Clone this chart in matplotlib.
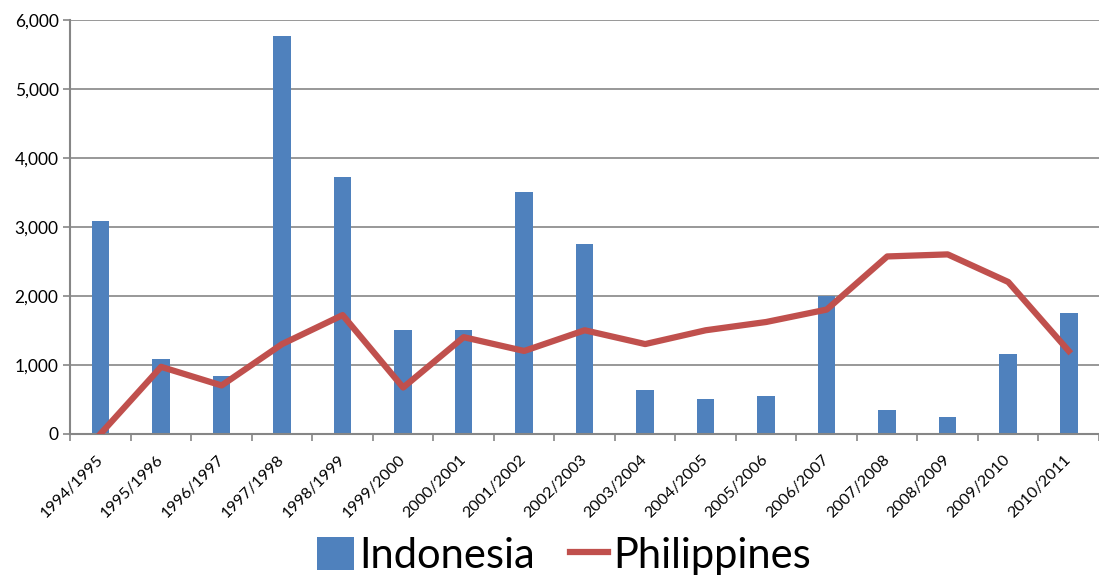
import matplotlib.pyplot as plt
import numpy as np
from matplotlib.ticker import FuncFormatter

seasons = ["1994/1995", "1995/1996", "1996/1997", "1997/1998", "1998/1999",
           "1999/2000", "2000/2001", "2001/2002", "2002/2003", "2003/2004",
           "2004/2005", "2005/2006", "2006/2007", "2007/2008", "2008/2009",
           "2009/2010", "2010/2011"]
indonesia = [3080, 1080, 830, 5760, 3725, 1500, 1500, 3500, 2750, 640,
             500, 540, 2000, 350, 250, 1150, 1750]
philippines = [0, 970, 700, 1300, 1720, 670, 1400, 1200, 1500, 1300,
               1500, 1620, 1800, 2570, 2600, 2200, 1200]

blue = "#4F81BD"
red = "#C0504D"
axis_gray = "#868686"

plt.rcParams['font.family'] = ['Lato', 'DejaVu Sans']

fig = plt.figure(figsize=(10.99, 5.83), dpi=100)
ax = fig.add_axes([0.064, 0.256, 0.936, 0.71])

x = np.arange(len(seasons))
bars = ax.bar(x, indonesia, width=0.29, color=blue, label="Indonesia", zorder=2)
line, = ax.plot(x, philippines, color=red, linewidth=4.5, solid_joinstyle='round',
                label="Philippines", zorder=3)

ax.set_xlim(-0.5, len(seasons) - 0.5)
ax.set_ylim(0, 6000)
ax.set_yticks(range(0, 6001, 1000))
ax.yaxis.set_major_formatter(FuncFormatter(lambda v, p: f"{int(v):,}"))
ax.grid(axis='y', color=axis_gray, linewidth=1.2, zorder=0)
ax.set_axisbelow(True)

ax.set_xticks(x)
ax.set_xticklabels(seasons, rotation=45, ha='right', va='center',
                   rotation_mode='anchor', fontsize=11.5)
ax.set_xticks(np.arange(-0.5, len(seasons)), minor=True)
ax.tick_params(axis='x', which='major', length=0, pad=17)
ax.tick_params(axis='x', which='minor', length=5, color=axis_gray, width=1.2)
ax.tick_params(axis='y', length=5, color=axis_gray, width=1.2, labelsize=12.5)

for side in ['top', 'right']:
    ax.spines[side].set_visible(False)
for side in ['left', 'bottom']:
    ax.spines[side].set_color(axis_gray)
    ax.spines[side].set_linewidth(1.5)

fig.legend([bars, line], ["Indonesia", "Philippines"],
           loc='lower center', bbox_to_anchor=(0.513, -0.05), ncol=2,
           frameon=False, fontsize=30, handlelength=0.9, handleheight=0.85,
           handletextpad=0.12, columnspacing=0.85)

fig.savefig("out.png", dpi=100)
